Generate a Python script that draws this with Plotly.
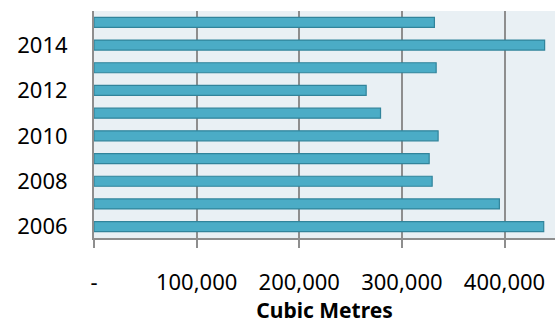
import plotly.graph_objects as go

# Annual volumes (cubic metres)
years = [2006, 2007, 2008, 2009, 2010, 2011, 2012, 2013, 2014, 2015]
volumes = [438200, 395000, 329500, 326600, 335300, 279200, 265200, 333400, 439100, 331700]

x_tickvals = [0, 100000, 200000, 300000, 400000]
x_ticktext = ["-", "100,000", "200,000", "300,000", "400,000"]
y_tickvals = [2006, 2008, 2010, 2012, 2014]

FONT = "Noto Sans"
GRID = "#8E8E8E"

fig = go.Figure(
    go.Bar(
        x=volumes,
        y=years,
        orientation="h",
        marker=dict(color="#4BACC6", line=dict(color="#31849B", width=1.2)),
        width=0.44,
    )
)

fig.update_layout(
    width=555,
    height=325,
    margin=dict(l=94, r=0, t=11, b=87),
    paper_bgcolor="white",
    plot_bgcolor="#E9F0F4",
    showlegend=False,
    font=dict(family=FONT, size=22, color="black"),
)

fig.update_xaxes(
    range=[0, 449200],
    tickvals=x_tickvals,
    ticktext=x_ticktext,
    showgrid=True,
    gridcolor=GRID,
    gridwidth=2,
    zeroline=False,
    showline=True,
    linecolor=GRID,
    linewidth=2,
    ticks="outside",
    ticklen=8,
    tickwidth=2,
    tickcolor=GRID,
    ticklabelstandoff=16,
    tickfont=dict(family=FONT, size=22),
    title=dict(
        text="<b>Cubic Metres</b>",
        font=dict(family=FONT, size=21),
        standoff=6,
    ),
)

fig.update_yaxes(
    range=[2005.5, 2015.5],
    tickvals=y_tickvals,
    showgrid=False,
    zeroline=False,
    showline=True,
    linecolor=GRID,
    linewidth=2,
    ticks="",
    ticklabelstandoff=20,
    tickfont=dict(family=FONT, size=22),
)

fig.write_html("out.html")
